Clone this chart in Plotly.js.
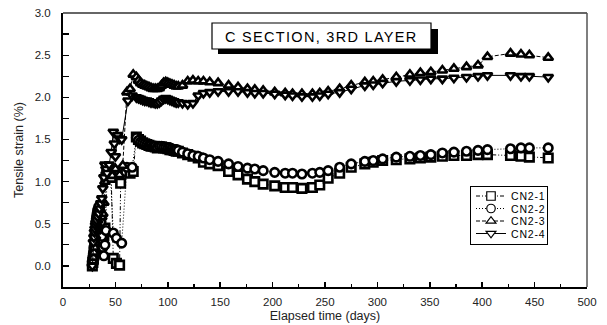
<!DOCTYPE html>
<html>
<head>
<meta charset="utf-8">
<script src="https://cdn.plot.ly/plotly-3.0.1.min.js"></script>
<style>
  html, body { margin: 0; padding: 0; background: #fff; }
  #chart { width: 607px; height: 325px; }
</style>
</head>
<body>
<div id="chart"></div>
<script>
// Elapsed days shared by all four gauges once readings settle (day 70 on)
const lateDays = [70,72,74,76,78,80,82,84,86,88,90,92,94,96,98,100,102,104,106,108,110,
  114,119,124,129,134,140,148,158,167,176,183,191,202,212,219,228,238,245,253,264,
  275,288,296,305,318,331,341,351,362,373,385,396,405,427,437,445,463];

// Early readings (installation period) per gauge
const cn21EarlyDays = [28,28.5,29,29.5,30,30.5,31,31.5,32,32.5,33,34,35,36,37,38,39,40,41,42,44,46,48,51,54,55,60,64,67];
const cn21EarlyStrain = [0.00,0.04,0.08,0.13,0.18,0.23,0.28,0.33,0.38,0.41,0.44,0.48,0.50,0.45,0.38,0.32,0.36,0.45,1.05,1.10,1.08,1.05,0.09,0.03,0.01,0.98,1.12,1.10,1.12];

const cn22EarlyDays = [28,28.5,29,29.5,30,30.5,31,31.5,32,32.5,33,34,35,36,37,38,39,40,41,42,45,48,51,56,61,66];
const cn22EarlyStrain = [0.05,0.10,0.15,0.22,0.30,0.38,0.45,0.52,0.58,0.62,0.66,0.70,0.66,0.52,0.35,0.22,0.12,0.25,0.42,1.18,1.15,0.39,0.33,0.27,1.17,1.17];

const cn23EarlyDays = [28,28.5,29,29.5,30,30.5,31,31.5,32,32.5,33,34,35,36,37,38,39,40,41,42,44,47,50,54,57,61,64,67];
const cn23EarlyStrain = [0.02,0.06,0.10,0.16,0.22,0.28,0.35,0.41,0.46,0.50,0.54,0.58,0.60,0.60,0.58,0.62,0.75,1.00,1.10,1.15,1.12,1.07,1.15,1.08,1.19,2.06,2.10,2.27];

const cn24EarlyDays = [28,29,29.5,30,30.5,31,31.5,32,33,34,35,36,37,38,39,40,41,42,44,46,48,49,50,52,54,56,62,66];
const cn24EarlyStrain = [0.00,0.28,0.34,0.40,0.44,0.48,0.51,0.54,0.58,0.62,0.68,0.74,0.80,0.92,1.05,1.20,1.15,1.10,1.20,1.35,1.59,1.45,1.30,1.55,1.51,1.50,1.96,2.02];

// Tensile strain (%) at lateDays
const cn21Strain = [1.53,1.50,1.48,1.46,1.45,1.44,1.43,1.42,1.42,1.41,1.40,1.41,1.41,1.40,1.40,1.39,1.38,1.38,1.37,1.36,1.36,
  1.34,1.32,1.30,1.28,1.23,1.21,1.19,1.12,1.08,1.03,1.00,0.97,0.95,0.93,0.93,0.92,0.93,0.96,1.04,1.10,
  1.17,1.21,1.23,1.25,1.26,1.27,1.28,1.29,1.30,1.31,1.31,1.32,1.32,1.31,1.30,1.29,1.28];
const cn22Strain = [1.52,1.49,1.47,1.46,1.45,1.44,1.43,1.43,1.42,1.42,1.41,1.42,1.42,1.41,1.41,1.40,1.40,1.39,1.38,1.38,1.37,
  1.35,1.33,1.31,1.30,1.28,1.26,1.24,1.21,1.18,1.16,1.15,1.13,1.11,1.10,1.10,1.09,1.10,1.11,1.13,1.17,
  1.21,1.24,1.25,1.27,1.29,1.30,1.31,1.32,1.34,1.35,1.36,1.37,1.38,1.39,1.40,1.40,1.40];
const cn23Strain = [2.24,2.20,2.17,2.15,2.14,2.13,2.12,2.11,2.10,2.10,2.10,2.11,2.14,2.17,2.18,2.17,2.16,2.15,2.14,2.13,2.13,
  2.14,2.19,2.20,2.19,2.19,2.18,2.17,2.14,2.12,2.10,2.09,2.08,2.06,2.05,2.04,2.04,2.04,2.05,2.07,2.10,
  2.14,2.18,2.19,2.21,2.24,2.27,2.29,2.30,2.32,2.34,2.36,2.38,2.48,2.52,2.51,2.50,2.47];
const cn24Strain = [2.00,1.99,1.98,1.97,1.96,1.96,1.95,1.94,1.94,1.93,1.93,1.94,1.96,1.98,1.99,1.98,1.97,1.96,1.95,1.94,1.94,
  1.93,1.92,1.93,2.02,2.05,2.06,2.07,2.07,2.07,2.06,2.05,2.05,2.04,2.03,2.02,2.01,2.01,2.02,2.04,2.06,
  2.10,2.14,2.15,2.17,2.19,2.20,2.21,2.22,2.22,2.23,2.24,2.25,2.26,2.26,2.25,2.25,2.24];

const seriesNames = ['CN2-1','CN2-2','CN2-3','CN2-4'];
const xTickVals = [0,50,100,150,200,250,300,350,400,450,500];

const FONT = 'Liberation Sans, Arial, sans-serif';

// plot area in page pixels, used to place decorations in paper units
const PL = 63, PR = 587, PT = 13, PB = 287;
const px2x = p => (p - PL) / (PR - PL);
const px2y = p => (PB - p) / (PB - PT);

function gauge(name, days, strain, symbol, dash) {
  return {
    type: 'scatter', mode: 'lines+markers', name: name,
    x: days, y: strain,
    line: { color: '#000', width: 1, dash: dash },
    marker: { symbol: symbol, size: 8.5, color: '#fff', line: { color: '#000', width: 2.6 } }
  };
}

const traces = [
  gauge(seriesNames[0], cn21EarlyDays.concat(lateDays), cn21EarlyStrain.concat(cn21Strain), 'square', '4px,2px,1px,2px,1px,2px'),
  gauge(seriesNames[1], cn22EarlyDays.concat(lateDays), cn22EarlyStrain.concat(cn22Strain), 'circle', '1px,2px'),
  gauge(seriesNames[2], cn23EarlyDays.concat(lateDays), cn23EarlyStrain.concat(cn23Strain), 'triangle-up', '4px,2px'),
  gauge(seriesNames[3], cn24EarlyDays.concat(lateDays), cn24EarlyStrain.concat(cn24Strain), 'triangle-down', 'solid')
];

const layout = {
  width: 607, height: 325,
  margin: { l: PL, r: 607 - PR, t: PT, b: 325 - PB },
  paper_bgcolor: '#fff', plot_bgcolor: '#fff',
  font: { family: FONT, color: '#000', size: 11.5 },
  showlegend: true,
  xaxis: {
    range: [0, 500], tickvals: xTickVals, ticktext: xTickVals.map(String),
    showgrid: false, zeroline: false,
    showline: true, linecolor: '#000', linewidth: 2,
    ticks: 'inside', ticklen: 5, tickwidth: 1.5, tickcolor: '#000',
    minor: { dtick: 25, tick0: 0, ticks: 'inside', ticklen: 3, tickwidth: 1.2, tickcolor: '#000' },
    tickfont: { size: 11.5, color: '#222' },
    ticklabelstandoff: 3,
    title: { text: 'Elapsed time (days)', font: { size: 12.5, color: '#222' }, standoff: 4 }
  },
  yaxis: {
    range: [-0.25, 3.0], dtick: 0.5, tick0: 0, tickformat: '.1f',
    showgrid: false, zeroline: false,
    showline: true, linecolor: '#000', linewidth: 2,
    ticks: 'inside', ticklen: 6, tickwidth: 1.2, tickcolor: '#000',
    minor: { dtick: 0.25, tick0: 0, ticks: 'inside', ticklen: 6, tickwidth: 1.2, tickcolor: '#000' },
    tickfont: { size: 11.5, color: '#222' },
    ticklabelstandoff: 8,
    title: { text: 'Tensile strain (%)', font: { size: 12.5, color: '#222' }, standoff: 8 }
  },
  legend: {
    x: px2x(548), xanchor: 'right', y: px2y(186), yanchor: 'top',
    bgcolor: '#fff', bordercolor: '#000', borderwidth: 1,
    font: { family: FONT, size: 10.5, color: '#000' },
    tracegroupgap: 0
  },
  shapes: [
    // top and right frame
    { type: 'line', xref: 'paper', yref: 'paper', x0: 0, x1: 1, y0: 1, y1: 1, line: { color: '#666', width: 2 } },
    { type: 'line', xref: 'paper', yref: 'paper', x0: 1, x1: 1, y0: 0, y1: 1, line: { color: '#555', width: 1.5 } },
    // caption box with drop shadow
    { type: 'rect', xref: 'paper', yref: 'paper', x0: px2x(218), x1: px2x(438), y0: px2y(54), y1: px2y(29),
      fillcolor: '#000', line: { width: 0 } },
    { type: 'rect', xref: 'paper', yref: 'paper', x0: px2x(212), x1: px2x(431), y0: px2y(49), y1: px2y(23),
      fillcolor: '#fff', line: { color: '#000', width: 1.2 } }
  ],
  annotations: [
    { xref: 'paper', yref: 'paper', x: px2x(321.5), y: px2y(36.5), xanchor: 'center', yanchor: 'middle',
      text: 'C SECTION, 3RD LAYER', showarrow: false,
      font: { family: FONT, size: 14.5, color: '#000' } }
  ]
};

Plotly.newPlot('chart', traces, layout, { displayModeBar: false, staticPlot: true }).then(gd => {
  // widen the caption tracking
  gd.querySelectorAll('.annotation-text').forEach(t => { t.style.letterSpacing = '1.3px'; });
  gd.querySelectorAll('.legend .legendtext').forEach(t => { t.style.letterSpacing = '0.8px'; });
  // legend symbols a little lighter than the plotted ones
  gd.querySelectorAll('.legend .legendpoints path').forEach(p => { p.style.strokeWidth = '1.2px'; });
  // tighten legend rows
  const items = gd.querySelectorAll('.legend .traces');
  const step = 12.5, y0 = 10;
  items.forEach((el, i) => {
    const m = /translate\(([-\d.e]+)[ ,]+([-\d.e]+)\)/.exec(el.getAttribute('transform'));
    if (m) el.setAttribute('transform', 'translate(' + m[1] + ',' + (y0 + i * step) + ')');
  });
  const bg = gd.querySelector('.legend .bg');
  if (bg) bg.setAttribute('height', 2 * y0 + (items.length - 1) * step);
});
</script>
</body>
</html>
